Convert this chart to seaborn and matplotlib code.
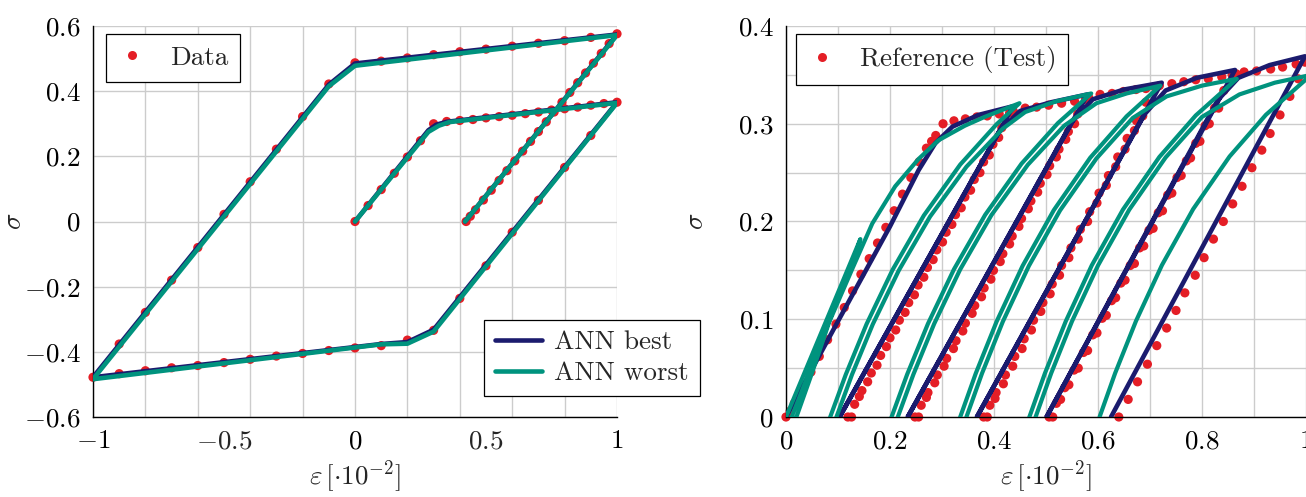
import numpy as np
import matplotlib
matplotlib.use('Agg')
import matplotlib.pyplot as plt
import seaborn as sns
from matplotlib.lines import Line2D

red = '#e41e26'
navy = '#1b1b6e'
teal = '#00937e'

# ---------------- left panel: cyclic loading (Data)
load1_x = [0.0, 0.05, 0.1, 0.15, 0.2, 0.25, 0.3, 0.35, 0.4, 0.45, 0.5, 0.55, 0.6, 0.65, 0.7, 0.75, 0.8, 0.85, 0.9, 0.95, 1.0]
load1_y = [0.0, 0.049, 0.098, 0.148, 0.198, 0.248, 0.3, 0.307, 0.31, 0.313, 0.318, 0.322, 0.326, 0.331, 0.336, 0.342, 0.346, 0.351, 0.357, 0.362, 0.366]
unload1_x = [0.9, 0.8, 0.7, 0.6, 0.5, 0.4, 0.3, 0.2, 0.1, 0.0, -0.1, -0.2, -0.3, -0.4, -0.5, -0.6, -0.7, -0.8, -0.9, -1.0]
unload1_y = [0.264, 0.166, 0.065, -0.033, -0.136, -0.236, -0.334, -0.364, -0.381, -0.388, -0.396, -0.405, -0.413, -0.423, -0.433, -0.442, -0.449, -0.458, -0.467, -0.478]
reload_x = [-0.9, -0.8, -0.7, -0.6, -0.5, -0.4, -0.3, -0.2, -0.1, 0.0, 0.1, 0.2, 0.3, 0.4, 0.5, 0.6, 0.7, 0.8, 0.9, 1.0]
reload_y = [-0.376, -0.279, -0.18, -0.08, 0.022, 0.122, 0.222, 0.322, 0.422, 0.487, 0.492, 0.502, 0.512, 0.521, 0.529, 0.538, 0.547, 0.555, 0.565, 0.576]
unload2_x = [0.97, 0.94, 0.91, 0.88, 0.85, 0.82, 0.79, 0.76, 0.73, 0.7, 0.67, 0.64, 0.61, 0.58, 0.55, 0.52, 0.49, 0.46, 0.44, 0.424]
unload2_y = [0.546, 0.516, 0.486, 0.456, 0.426, 0.396, 0.366, 0.336, 0.306, 0.276, 0.246, 0.216, 0.186, 0.156, 0.126, 0.096, 0.066, 0.036, 0.016, 0.0]

best_l_x = [0.0, 0.28, 0.31, 0.35, 1.0, 0.3, 0.2, 0.1, -1.0, -0.1, 0.0, 1.0, 0.42]
best_l_y = [0.0, 0.28, 0.297, 0.306, 0.366, -0.332, -0.37, -0.376, -0.478, 0.42, 0.485, 0.574, 0.0]
worst_l_x = [0.0, 0.28, 0.32, 0.36, 1.0, 0.3, 0.2, 0.1, -1.0, -0.1, 0.0, 1.0, 0.42]
worst_l_y = [0.0, 0.275, 0.294, 0.305, 0.364, -0.338, -0.375, -0.377, -0.484, 0.415, 0.478, 0.572, 0.0]

# ---------------- right panel: Reference (Test)
ref_load_x = [0.0, 0.008, 0.016, 0.032, 0.048, 0.064, 0.08, 0.096, 0.112, 0.128, 0.144, 0.16, 0.176, 0.192, 0.208, 0.224, 0.24, 0.256, 0.27, 0.28, 0.288, 0.302, 0.323, 0.345, 0.367, 0.387, 0.41, 0.43]
ref_load_y = [0.0, 0.006, 0.014, 0.03, 0.046, 0.062, 0.079, 0.095, 0.112, 0.129, 0.146, 0.162, 0.178, 0.194, 0.211, 0.228, 0.245, 0.261, 0.275, 0.282, 0.288, 0.3, 0.303, 0.305, 0.307, 0.308, 0.31, 0.311]
ref_c1_x = [0.415, 0.398, 0.38, 0.362, 0.344, 0.326, 0.308, 0.29, 0.272, 0.254, 0.236, 0.218, 0.2, 0.182, 0.164, 0.146, 0.132, 0.119,
            0.126, 0.141, 0.157, 0.175, 0.193, 0.211, 0.229, 0.247, 0.265, 0.283, 0.301, 0.319, 0.337, 0.355, 0.373, 0.391, 0.409, 0.424]
ref_c1_y = [0.296, 0.279, 0.261, 0.243, 0.225, 0.207, 0.189, 0.171, 0.153, 0.135, 0.117, 0.099, 0.081, 0.063, 0.045, 0.027, 0.013, 0.0,
            0.0, 0.021, 0.036, 0.053, 0.072, 0.089, 0.107, 0.125, 0.143, 0.161, 0.179, 0.197, 0.214, 0.232, 0.25, 0.268, 0.286, 0.302]
ref_e2_x = [0.437, 0.46, 0.482, 0.505, 0.53, 0.555, 0.576]
ref_e2_y = [0.313, 0.316, 0.317, 0.319, 0.321, 0.323, 0.325]
ref_c2_x = [0.561, 0.543, 0.525, 0.507, 0.489, 0.471, 0.453, 0.435, 0.417, 0.399, 0.381, 0.363, 0.345, 0.327, 0.309, 0.291, 0.273, 0.26, 0.248,
            0.255, 0.27, 0.286, 0.304, 0.322, 0.34, 0.358, 0.376, 0.394, 0.412, 0.43, 0.448, 0.466, 0.484, 0.502, 0.52, 0.538, 0.555]
ref_c2_y = [0.31, 0.292, 0.274, 0.257, 0.239, 0.221, 0.203, 0.185, 0.167, 0.15, 0.132, 0.114, 0.096, 0.078, 0.06, 0.043, 0.025, 0.012, 0.0,
            0.0, 0.02, 0.035, 0.052, 0.07, 0.088, 0.106, 0.123, 0.141, 0.159, 0.177, 0.195, 0.213, 0.23, 0.248, 0.266, 0.284, 0.3]
ref_e3_x = [0.582, 0.604, 0.627, 0.649, 0.673, 0.692, 0.708]
ref_e3_y = [0.327, 0.33, 0.331, 0.333, 0.335, 0.336, 0.338]
ref_c3_x = [0.692, 0.674, 0.656, 0.638, 0.62, 0.602, 0.584, 0.566, 0.548, 0.53, 0.512, 0.494, 0.476, 0.458, 0.44, 0.422, 0.404, 0.392, 0.38,
            0.387, 0.402, 0.418, 0.436, 0.454, 0.472, 0.49, 0.508, 0.526, 0.544, 0.562, 0.58, 0.598, 0.616, 0.634, 0.652, 0.67, 0.686]
ref_c3_y = [0.322, 0.303, 0.285, 0.266, 0.247, 0.229, 0.21, 0.192, 0.173, 0.155, 0.136, 0.117, 0.099, 0.08, 0.062, 0.043, 0.025, 0.012, 0.0,
            0.0, 0.019, 0.034, 0.052, 0.07, 0.089, 0.108, 0.126, 0.145, 0.163, 0.182, 0.2, 0.219, 0.237, 0.256, 0.274, 0.293, 0.308]
ref_e4_x = [0.718, 0.742, 0.765, 0.788, 0.812, 0.838, 0.858]
ref_e4_y = [0.339, 0.341, 0.343, 0.345, 0.346, 0.348, 0.35]
ref_c4_x = [0.842, 0.824, 0.806, 0.788, 0.77, 0.752, 0.734, 0.716, 0.698, 0.68, 0.662, 0.644, 0.626, 0.608, 0.59, 0.572, 0.554, 0.536, 0.52, 0.506,
            0.513, 0.528, 0.544, 0.562, 0.58, 0.598, 0.616, 0.634, 0.652, 0.67, 0.688, 0.706, 0.724, 0.742, 0.76, 0.778, 0.796, 0.814, 0.832]
ref_c4_y = [0.334, 0.316, 0.298, 0.28, 0.262, 0.245, 0.227, 0.209, 0.191, 0.173, 0.155, 0.137, 0.119, 0.101, 0.084, 0.066, 0.048, 0.03, 0.014, 0.0,
            0.0, 0.018, 0.033, 0.05, 0.068, 0.086, 0.104, 0.122, 0.14, 0.157, 0.175, 0.193, 0.211, 0.229, 0.247, 0.265, 0.282, 0.3, 0.316]
ref_e5_x = [0.866, 0.881, 0.905, 0.932, 0.955, 0.981, 0.998]
ref_e5_y = [0.351, 0.353, 0.354, 0.356, 0.358, 0.361, 0.363]
ref_c5_x = [0.985, 0.969, 0.95, 0.931, 0.915, 0.896, 0.877, 0.859, 0.841, 0.822, 0.804, 0.787, 0.767, 0.75, 0.732, 0.713, 0.695, 0.676, 0.658, 0.64]
ref_c5_y = [0.346, 0.328, 0.309, 0.29, 0.273, 0.255, 0.236, 0.218, 0.2, 0.182, 0.163, 0.145, 0.127, 0.109, 0.091, 0.073, 0.054, 0.036, 0.018, 0.0]

# ANN best (right)
best_r_x = [0.0, 0.1, 0.2, 0.255, 0.287, 0.32, 0.37, 0.437, 0.103, 0.41, 0.45, 0.51, 0.58, 0.234, 0.55, 0.59, 0.65, 0.7225,
            0.367, 0.69, 0.73, 0.79, 0.8635, 0.501, 0.83, 0.87, 0.93, 0.998, 0.625]
best_r_y = [0.0, 0.098, 0.195, 0.2525, 0.28, 0.297, 0.309, 0.318, 0.0, 0.292, 0.313, 0.322, 0.33, 0.0, 0.302, 0.325, 0.335, 0.342,
            0.0, 0.31, 0.334, 0.347, 0.355, 0.0, 0.324, 0.347, 0.36, 0.369, 0.0]

# ANN worst (right)
worst_r_x = [0.0, 0.143, 0.137, 0.008, 0.02, 0.05, 0.083, 0.127, 0.166, 0.21, 0.255, 0.293, 0.344, 0.382, 0.449,
             0.405, 0.335, 0.265, 0.205, 0.155, 0.115, 0.085, 0.08, 0.092,
             0.097, 0.127, 0.167, 0.217, 0.277, 0.347, 0.417, 0.46, 0.52, 0.587,
             0.523, 0.453, 0.383, 0.323, 0.273, 0.233, 0.203, 0.198, 0.21,
             0.215, 0.245, 0.285, 0.335, 0.395, 0.465, 0.535, 0.597, 0.655, 0.72,
             0.655, 0.585, 0.515, 0.455, 0.405, 0.365, 0.335, 0.33, 0.342,
             0.347, 0.377, 0.417, 0.467, 0.527, 0.597, 0.667, 0.732, 0.8, 0.867,
             0.788, 0.718, 0.648, 0.588, 0.538, 0.498, 0.468, 0.463, 0.475,
             0.48, 0.51, 0.55, 0.6, 0.66, 0.73, 0.8, 0.872, 0.94, 1.01,
             0.923, 0.853, 0.783, 0.723, 0.673, 0.633, 0.603]
worst_r_y = [0.0, 0.182, 0.172, -0.004, 0.0, 0.045, 0.097, 0.151, 0.198, 0.236, 0.264, 0.283, 0.298, 0.307, 0.321,
             0.2995, 0.2582, 0.2061, 0.1506, 0.0951, 0.0435, 0.0, -0.007, -0.007,
             0.0, 0.0435, 0.095, 0.15, 0.205, 0.256, 0.295, 0.312, 0.323, 0.331,
             0.3007, 0.2592, 0.2068, 0.1511, 0.0954, 0.0436, 0.0, -0.007, -0.007,
             0.0, 0.0436, 0.0954, 0.151, 0.2065, 0.258, 0.298, 0.321, 0.331, 0.339,
             0.3076, 0.2652, 0.2116, 0.1546, 0.0976, 0.0447, 0.0, -0.007, -0.007,
             0.0, 0.0447, 0.0976, 0.1545, 0.2113, 0.2645, 0.306, 0.328, 0.339, 0.346,
             0.3085, 0.266, 0.2122, 0.1551, 0.0979, 0.0448, 0.0, -0.007, -0.007,
             0.0, 0.0448, 0.0979, 0.155, 0.212, 0.2655, 0.307, 0.33, 0.342, 0.35,
             0.3092, 0.2665, 0.2127, 0.1554, 0.0981, 0.0449, 0.0]

sns.set_theme(style='white')
plt.rcParams.update({
    'font.family': 'serif',
    'font.serif': ['cmr10'],
    'mathtext.fontset': 'cm',
    'axes.formatter.use_mathtext': True,
    'font.size': 19.5,
})

fig = plt.figure(figsize=(13.06, 4.97), dpi=100)
W, H = 1306, 497
ax1 = fig.add_axes([93 / W, 80 / H, 524 / W, 391 / H])
ax2 = fig.add_axes([786 / W, 80 / H, 520 / W, 391 / H])

LW = 3.3
LW_T = 3.0
MS = 44


def style(ax):
    for s in ['top', 'right']:
        ax.spines[s].set_visible(False)
    for s in ['left', 'bottom']:
        ax.spines[s].set_color('black')
        ax.spines[s].set_linewidth(1.0)
    ax.set_axisbelow(True)
    ax.grid(True, which='major', color='#cccccc', lw=1.0)
    ax.tick_params(which='major', direction='in', length=7, width=1.0, pad=9,
                   labelsize=19.5, color='black', labelcolor='black')


# left
sns.scatterplot(x=load1_x + unload1_x + reload_x + unload2_x,
                y=load1_y + unload1_y + reload_y + unload2_y,
                ax=ax1, color=red, s=MS, edgecolor='none', zorder=2, clip_on=False)
sns.lineplot(x=best_l_x, y=best_l_y, sort=False, estimator=None, ax=ax1, color=navy, lw=LW, zorder=3)
sns.lineplot(x=worst_l_x, y=worst_l_y, sort=False, estimator=None, ax=ax1, color=teal, lw=LW, zorder=4)
ax1.set_xlim(-1, 1)
ax1.set_ylim(-0.6, 0.6)
style(ax1)
xt = np.round(np.arange(-1, 1.01, 0.2), 2)
ax1.set_xticks(xt)
ax1.set_xticklabels(['$-1$' if v == -1 else '$0$' if v == 0 else '$1$' if v == 1 else '' for v in xt])
ax1.set_xticks([-0.5, 0.5], minor=True)
ax1.set_xticklabels(['$-0.5$', '$0.5$'], minor=True)
ax1.tick_params(axis='x', which='minor', length=0, pad=9, labelsize=19.5)
yt = np.round(np.arange(-0.6, 0.61, 0.2), 2)
ax1.set_yticks(yt)
ax1.set_yticklabels([f'${v:g}$' for v in yt])
ax1.set_xlabel(r'$\varepsilon\,[\cdot 10^{-2}]$', fontsize=19.5, labelpad=4)
ax1.set_ylabel(r'$\sigma$', fontsize=19.5)
ax1.yaxis.set_label_coords(-0.128, 0.5)

leg_kw = dict(frameon=True, fancybox=False, framealpha=1, edgecolor='black', fontsize=19.5,
              borderaxespad=0)
h_data = [Line2D([], [], ls='none', marker='o', ms=6.5, color=red, mec='none')]
l1 = ax1.legend(h_data, ['Data'], loc='upper left', bbox_to_anchor=(0.025, 0.98),
                handlelength=1.0, handletextpad=0.9, borderpad=0.45, **leg_kw)
l1.get_frame().set_linewidth(0.9)
ax1.add_artist(l1)
h_ann = [Line2D([], [], color=navy, lw=LW), Line2D([], [], color=teal, lw=LW)]
l2 = ax1.legend(h_ann, ['ANN best', 'ANN worst'], loc='lower right', bbox_to_anchor=(1.158, 0.054),
                handlelength=1.75, handletextpad=0.45, borderpad=0.4, labelspacing=0.25, **leg_kw)
l2.get_frame().set_linewidth(0.9)

# right
rx = ref_load_x + ref_c1_x + ref_e2_x + ref_c2_x + ref_e3_x + ref_c3_x + ref_e4_x + ref_c4_x + ref_e5_x + ref_c5_x
ry = ref_load_y + ref_c1_y + ref_e2_y + ref_c2_y + ref_e3_y + ref_c3_y + ref_e4_y + ref_c4_y + ref_e5_y + ref_c5_y
sns.scatterplot(x=rx, y=ry, ax=ax2, color=red, s=MS, edgecolor='none', zorder=2, clip_on=False)
sns.lineplot(x=best_r_x, y=best_r_y, sort=False, estimator=None, ax=ax2, color=navy, lw=LW, zorder=3)
sns.lineplot(x=worst_r_x, y=worst_r_y, sort=False, estimator=None, ax=ax2, color=teal, lw=LW_T, zorder=4)
ax2.set_xlim(0, 1)
ax2.set_ylim(0, 0.4)
style(ax2)
xt2 = np.round(np.arange(0, 1.01, 0.1), 2)
ax2.set_xticks(xt2)
ax2.set_xticklabels([f'${v:g}$' if i % 2 == 0 else '' for i, v in enumerate(xt2)])
yt2 = np.round(np.arange(0, 0.401, 0.05), 2)
ax2.set_yticks(yt2)
ax2.set_yticklabels([f'${v:g}$' if i % 2 == 0 else '' for i, v in enumerate(yt2)])
ax2.set_xlabel(r'$\varepsilon\,[\cdot 10^{-2}]$', fontsize=19.5, labelpad=4)
ax2.set_ylabel(r'$\sigma$', fontsize=19.5)
ax2.yaxis.set_label_coords(-0.15, 0.5)
h_ref = [Line2D([], [], ls='none', marker='o', ms=6.5, color=red, mec='none')]
l3 = ax2.legend(h_ref, ['Reference (Test)'], loc='upper left', bbox_to_anchor=(0.019, 0.98),
                handlelength=1.0, handletextpad=0.9, borderpad=0.45, **leg_kw)
l3.get_frame().set_linewidth(0.9)

fig.savefig('out.png', dpi=100)
